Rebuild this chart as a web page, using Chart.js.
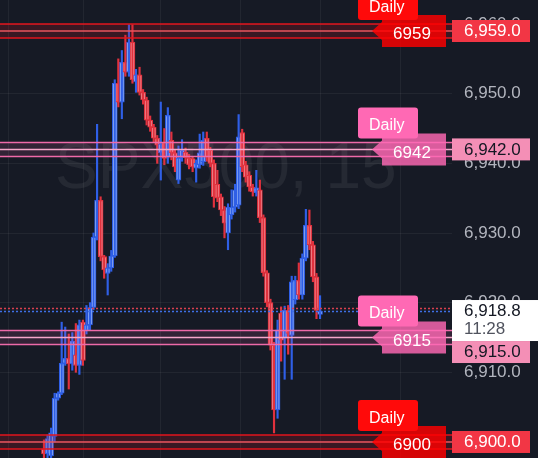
<!DOCTYPE html>
<html>
<head>
<meta charset="utf-8">
<script src="https://cdn.jsdelivr.net/npm/chart.js@4.4.1/dist/chart.umd.min.js"></script>
<style>
  html, body { margin: 0; padding: 0; background: #161a25; }
  #wrap { width: 538px; height: 458px; position: relative; }
</style>
</head>
<body>
<div id="wrap"><canvas id="chart"></canvas></div>
<script>
// SPX500, 15 min candles
const opens = [6899.0, 6898.3, 6898.0, 6900.8, 6906.3, 6907.0, 6911.3, 6912.0, 6911.2, 6912.5,
    6911.0, 6917.2, 6916.0, 6916.8, 6919.3, 6929.4, 6934.7, 6926.6, 6924.2, 6925.0,
    6926.7, 6951.5, 6948.8, 6954.5, 6953.1, 6957.4, 6951.7, 6952.7, 6950.2, 6949.1,
    6946.2, 6945.2, 6943.6, 6941.5, 6943.0, 6940.9, 6943.3, 6941.5, 6937.6, 6940.8,
    6941.6, 6940.8, 6940.7, 6939.3, 6939.8, 6940.2, 6943.6, 6941.9, 6940.0, 6937.0,
    6935.2, 6933.3, 6930.0, 6932.6, 6933.7, 6934.0, 6944.4, 6939.8, 6938.3, 6936.6,
    6935.8, 6936.2, 6932.2, 6924.3, 6920.0, 6913.9, 6904.6, 6918.5, 6914.9, 6918.9,
    6915.3, 6920.4, 6923.2, 6921.1, 6926.4, 6931.1, 6928.3, 6923.7, 6918.3];
const highs = [6900.3, 6901.0, 6902.0, 6907.0, 6907.2, 6917.2, 6916.5, 6915.5, 6915.7, 6917.0,
    6917.5, 6917.5, 6919.6, 6920.0, 6930.0, 6945.6, 6935.2, 6926.8, 6925.6, 6927.5,
    6952.0, 6955.0, 6956.2, 6958.4, 6959.9, 6959.9, 6953.5, 6953.8, 6950.6, 6949.5,
    6946.8, 6945.6, 6944.0, 6948.8, 6945.0, 6948.0, 6944.5, 6942.0, 6942.5, 6943.4,
    6942.2, 6941.3, 6941.0, 6940.5, 6944.2, 6944.5, 6944.5, 6942.3, 6940.5, 6939.0,
    6935.6, 6933.8, 6934.2, 6936.2, 6937.0, 6947.0, 6944.9, 6940.3, 6938.8, 6937.0,
    6939.0, 6937.6, 6932.6, 6924.6, 6920.5, 6914.3, 6917.5, 6919.4, 6919.5, 6919.6,
    6923.8, 6923.8, 6925.7, 6927.0, 6933.4, 6933.3, 6928.8, 6924.2, 6921.0];
const lows = [6897.6, 6897.6, 6897.7, 6900.0, 6906.0, 6906.8, 6911.0, 6907.6, 6910.3, 6910.0,
    6909.7, 6911.0, 6915.5, 6916.0, 6919.0, 6929.0, 6926.0, 6923.5, 6921.1, 6924.5,
    6926.5, 6948.1, 6946.4, 6952.5, 6952.5, 6951.5, 6950.2, 6949.8, 6948.5, 6945.5,
    6944.6, 6943.0, 6940.0, 6937.6, 6939.8, 6940.0, 6940.5, 6938.8, 6937.1, 6940.3,
    6940.0, 6939.2, 6938.8, 6937.3, 6939.3, 6939.7, 6940.3, 6939.5, 6933.7, 6934.5,
    6932.5, 6929.3, 6927.6, 6932.0, 6933.0, 6933.5, 6938.8, 6937.3, 6936.0, 6935.3,
    6935.3, 6931.5, 6923.8, 6919.4, 6913.2, 6901.3, 6903.4, 6911.6, 6909.0, 6912.6,
    6909.0, 6919.8, 6920.5, 6920.5, 6926.0, 6927.6, 6923.0, 6917.7, 6917.7];
const closes = [6898.3, 6900.5, 6901.3, 6906.3, 6907.0, 6911.3, 6912.0, 6911.2, 6914.5, 6911.0,
    6916.8, 6911.7, 6916.8, 6919.3, 6929.4, 6934.7, 6926.6, 6924.7, 6925.0, 6926.7,
    6951.5, 6948.8, 6954.5, 6953.1, 6957.4, 6952.0, 6952.7, 6950.2, 6949.1, 6946.2,
    6945.2, 6943.6, 6942.6, 6942.8, 6940.7, 6946.9, 6941.5, 6939.5, 6940.8, 6941.9,
    6940.8, 6939.8, 6939.5, 6940.0, 6941.5, 6943.3, 6940.9, 6940.0, 6935.2, 6935.0,
    6933.3, 6931.4, 6933.7, 6933.7, 6936.2, 6943.8, 6939.5, 6938.0, 6936.6, 6935.9,
    6936.5, 6932.2, 6924.3, 6920.0, 6913.9, 6904.6, 6916.1, 6914.6, 6918.9, 6915.6,
    6923.0, 6923.2, 6921.1, 6926.4, 6931.1, 6928.3, 6923.7, 6918.9, 6918.8];

// daily levels drawn as zones
const levels = [6959, 6942, 6915, 6900];
const levelKinds = ['red', 'pink', 'pink', 'red'];
const levelBand = 1;
const lastPrice = 6918.8;
const prevPrice = 6919.3;
const countdown = '11:28';
const timeGrid = [0.56, 21.75, 44.35, 66.95, 89.55, 112.15]; // hidden time axis grid (bar index)

const FONT = '"Liberation Sans", Arial, sans-serif';
const colors = {
    bg: '#161a25',
    grid: 'rgba(255,255,255,0.055)',
    upBody: '#b3cbf8',
    upEdge: '#2f5fe6',
    downBody: '#f6acb2',
    downEdge: '#e0313d',
    red: { tag: '#ff0a0a', num: 'rgba(255,0,0,0.82)', line: '#e3141d', mid: '#e8545e', fill: 'rgba(200,20,30,0.2)', axis: '#f23645', axisText: '#ffffff' },
    pink: { tag: '#ff69b4', num: 'rgba(255,105,180,0.82)', line: '#ee6aa9', mid: '#f5a6ca', fill: 'rgba(255,105,180,0.12)', axis: '#f48fb6', axisText: '#131722' }
};

const isUp = (i) => closes[i] >= opens[i];

const bgPlugin = {
    id: 'bg',
    beforeDraw(chart) {
        const ctx = chart.ctx;
        ctx.save();
        ctx.fillStyle = colors.bg;
        ctx.fillRect(0, 0, chart.width, chart.height);
        ctx.restore();
    }
};

const overlay = {
    id: 'overlay',
    beforeDatasetsDraw(chart) {
        // watermark
        const ctx = chart.ctx;
        ctx.save();
        ctx.font = '64px ' + FONT;
        ctx.fillStyle = 'rgba(255,255,255,0.065)';
        ctx.textBaseline = 'alphabetic';
        ctx.fillText('SPX500, 15', 55, 188);
        ctx.restore();
    },
    afterDatasetsDraw(chart) {
        const ctx = chart.ctx;
        const y = chart.scales.y;
        const area = chart.chartArea;
        ctx.save();
        levels.forEach((lv, i) => {
            const c = colors[levelKinds[i]];
            const yt = y.getPixelForValue(lv + levelBand);
            const ym = y.getPixelForValue(lv);
            const yb = y.getPixelForValue(lv - levelBand);
            ctx.fillStyle = c.fill;
            ctx.fillRect(area.left, yt, area.right - area.left, yb - yt);
            ctx.lineWidth = 1.5;
            [[yt, c.line], [ym, c.mid], [yb, c.line]].forEach(([py, col]) => {
                ctx.strokeStyle = col;
                ctx.beginPath();
                ctx.moveTo(area.left, py);
                ctx.lineTo(area.right, py);
                ctx.stroke();
            });
        });
        // price lines
        ctx.lineWidth = 1.5;
        ctx.setLineDash([2, 2]);
        [[prevPrice, '#d8404f'], [lastPrice, '#3f6fe6']].forEach(([p, col]) => {
            const py = Math.round(y.getPixelForValue(p)) + 0.5;
            ctx.strokeStyle = col;
            ctx.beginPath();
            ctx.moveTo(area.left, py);
            ctx.lineTo(area.right, py);
            ctx.stroke();
        });
        ctx.restore();
    },
    afterDraw(chart) {
        const ctx = chart.ctx;
        const y = chart.scales.y;
        const axL = y.left;
        ctx.save();
        ctx.textBaseline = 'middle';

        // current price box
        const lp = y.getPixelForValue(lastPrice);
        const curTop = lp - 11, curBot = lp + 30;
        ctx.fillStyle = '#ffffff';
        ctx.fillRect(axL, curTop, chart.width - axL, curBot - curTop);
        ctx.font = '17px ' + FONT;
        ctx.fillStyle = '#131722';
        ctx.fillText(lastPrice.toLocaleString('en-US', { minimumFractionDigits: 1 }), axL + 12, lp + 0.5);
        ctx.fillStyle = '#50535e';
        ctx.fillText(countdown, axL + 12, lp + 18.5);

        levels.forEach((lv, i) => {
            const c = colors[levelKinds[i]];
            const L = y.getPixelForValue(lv);

            // number tag with arrow
            ctx.fillStyle = c.num;
            ctx.beginPath();
            ctx.moveTo(372, L);
            ctx.lineTo(382, L - 9);
            ctx.lineTo(382, L - 16);
            ctx.lineTo(446, L - 16);
            ctx.lineTo(446, L + 16);
            ctx.lineTo(382, L + 16);
            ctx.lineTo(382, L + 9);
            ctx.closePath();
            ctx.fill();
            ctx.font = '17px ' + FONT;
            ctx.fillStyle = '#ffffff';
            ctx.textAlign = 'center';
            ctx.fillText(String(lv), 412, L + 3.5);

            // "Daily" tag
            ctx.fillStyle = c.tag;
            ctx.beginPath();
            ctx.roundRect(358, L - 42, 60, 31, 3);
            ctx.fill();
            ctx.font = '16px ' + FONT;
            ctx.fillStyle = '#ffffff';
            ctx.textAlign = 'left';
            ctx.fillText('Daily', 369, L - 23.5);

            // price-axis label
            let top = L - 11;
            if (top < curBot && top + 22 > curTop) top = curBot;
            ctx.fillStyle = c.axis;
            ctx.fillRect(axL, top, 78, 22);
            ctx.font = '17px ' + FONT;
            ctx.fillStyle = c.axisText;
            ctx.fillText(lv.toLocaleString('en-US', { minimumFractionDigits: 1 }), axL + 12, top + 11.5);
        });
        ctx.restore();
    }
};

const wickData = closes.map((c, i) => ({ x: i, y: [lows[i], highs[i]] }));
const bodyData = closes.map((c, i) => ({ x: i, y: [opens[i], closes[i]] }));

new Chart(document.getElementById('chart'), {
    type: 'bar',
    data: {
        datasets: [
            {
                data: wickData,
                barThickness: 1.5,
                grouped: false,
                backgroundColor: (ctx) => (isUp(ctx.dataIndex) ? colors.upEdge : colors.downEdge)
            },
            {
                data: bodyData,
                barThickness: 5,
                grouped: false,
                minBarLength: 2,
                borderWidth: 1.2,
                borderSkipped: false,
                backgroundColor: (ctx) => (isUp(ctx.dataIndex) ? colors.upBody : colors.downBody),
                borderColor: (ctx) => (isUp(ctx.dataIndex) ? colors.upEdge : colors.downEdge)
            }
        ]
    },
    options: {
        responsive: true,
        maintainAspectRatio: false,
        animation: false,
        layout: { padding: 0, autoPadding: false },
        plugins: { legend: { display: false }, tooltip: { enabled: false } },
        scales: {
            x: {
                type: 'linear',
                min: -12.43,
                max: 115.29,
                offset: false,
                afterBuildTicks: (scale) => {
                    scale.ticks = timeGrid.map((v) => ({ value: v }));
                },
                afterFit: (scale) => {
                    scale.height = 0;
                    scale.paddingLeft = 0;
                    scale.paddingRight = 0;
                },
                ticks: { display: false },
                grid: { color: colors.grid, drawTicks: false },
                border: { display: false }
            },
            y: {
                position: 'right',
                min: 6897.7,
                max: 6963.45,
                afterFit: (scale) => {
                    scale.width = 86;
                    scale.paddingTop = 0;
                    scale.paddingBottom = 0;
                },
                ticks: {
                    stepSize: 10,
                    includeBounds: false,
                    crossAlign: 'near',
                    padding: 12,
                    color: '#b2b5be',
                    font: { size: 17, family: FONT },
                    callback: (v) => v.toLocaleString('en-US', { minimumFractionDigits: 1 })
                },
                grid: { color: colors.grid, drawTicks: false },
                border: { display: false }
            }
        }
    },
    plugins: [bgPlugin, overlay]
});
</script>
</body>
</html>
